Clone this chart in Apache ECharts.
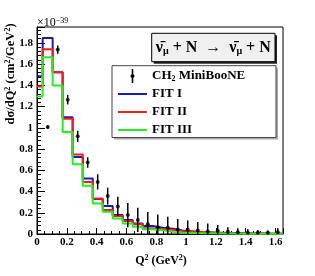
<!DOCTYPE html>
<html><head><meta charset="utf-8">
<script src="https://cdn.jsdelivr.net/npm/echarts@6/dist/echarts.min.js"></script>
<style>html,body{margin:0;padding:0;background:#fff}#c{width:315px;height:276px}</style>
</head><body><div id="c"></div>
<script>
// Histogram bin edges (Q^2, GeV^2) shared by the three fits
const binEdges = [0, 0.038, 0.105, 0.172, 0.239, 0.307, 0.374, 0.441, 0.508, 0.575, 0.642, 0.709, 0.777, 0.844, 0.911, 0.978, 1.045, 1.112, 1.180, 1.247, 1.314, 1.381, 1.448, 1.515, 1.582, 1.650];
// Bin contents (x10^-39 cm^2/GeV^2)
const fit1 = [1.486, 1.847, 1.524, 1.100, 0.726, 0.523, 0.330, 0.263, 0.178, 0.131, 0.100, 0.075, 0.059, 0.050, 0.032, 0.022, 0.016, 0.013, 0.010, 0.008, 0.006, 0.005, 0.004, 0.003, 0.003];
const fit2 = [1.390, 1.740, 1.524, 1.086, 0.748, 0.491, 0.335, 0.225, 0.169, 0.122, 0.091, 0.053, 0.047, 0.040, 0.028, 0.026, 0.020, 0.015, 0.012, 0.008, 0.006, 0.005, 0.004, 0.003, 0.003];
const fit3 = [1.296, 1.665, 1.400, 0.960, 0.657, 0.454, 0.288, 0.209, 0.147, 0.100, 0.069, 0.044, 0.036, 0.020, 0.011, 0.009, 0.007, 0.006, 0.005, 0.004, 0.003, 0.003, 0.002, 0.002, 0.002];
// MiniBooNE CH2 data points
const dataQ2 = [0.072, 0.139, 0.206, 0.273, 0.340, 0.407, 0.474, 0.542, 0.609, 0.676, 0.743, 0.810, 0.877, 0.944, 1.011, 1.078, 1.145, 1.212, 1.280, 1.347, 1.414, 1.481, 1.548, 1.615];
const dataVal = [1.007, 1.737, 1.265, 0.920, 0.673, 0.491, 0.357, 0.260, 0.178, 0.133, 0.092, 0.064, 0.058, 0.042, 0.040, 0.032, 0.024, 0.030, 0.022, 0.016, 0.012, 0.012, 0.012, 0.016];
const dataErr = [0.015, 0.039, 0.045, 0.052, 0.050, 0.072, 0.080, 0.090, 0.115, 0.115, 0.115, 0.120, 0.105, 0.100, 0.088, 0.080, 0.075, 0.055, 0.041, 0.037, 0.032, 0.026, 0.020, 0.037];

const FONT = 'Liberation Serif';
function histData(vals){
  const d = vals.map((v,i)=>[binEdges[i], v]);
  d.push([binEdges[vals.length], vals[vals.length-1]]);
  return d;
}
function stepSeries(name, vals, color, z){
  return {type:'line', name, step:'end', data:histData(vals), symbol:'none',
    lineStyle:{color, width:2}, itemStyle:{color}, z, animation:false, clip:true};
}
const LINE_ICON = 'path://M0,0 L29,0 L29,2 L0,2 Z';
const chart = echarts.init(document.getElementById('c'), null, {renderer:'canvas'});
const axisLabel = {color:'#000', fontFamily:FONT, fontWeight:'bold', fontSize:11};
chart.setOption({
  animation:false,
  grid:{left:37, right:32, top:27, bottom:42, show:true, borderColor:'#000', borderWidth:1, backgroundColor:'transparent'},
  xAxis:{type:'value', min:0, max:1.65, interval:0.2,
    axisLine:{show:true, lineStyle:{color:'#000', width:1}},
    axisTick:{show:true, inside:true, length:6, lineStyle:{color:'#000'}},
    minorTick:{show:true, splitNumber:4, length:3, lineStyle:{color:'#000'}},
    splitLine:{show:false},
    axisLabel:Object.assign({margin:3, showMaxLabel:false,
      formatter:v=> Math.abs(v/0.2 - Math.round(v/0.2))<1e-6 ? String(+v.toFixed(1)) : ''}, axisLabel)},
  yAxis:{type:'value', min:0, max:1.95, interval:0.2,
    axisLine:{show:true, lineStyle:{color:'#000', width:1}},
    axisTick:{show:true, inside:true, length:8, lineStyle:{color:'#000'}},
    minorTick:{show:true, splitNumber:5, length:4, lineStyle:{color:'#000'}},
    splitLine:{show:false},
    axisLabel:Object.assign({margin:4, showMaxLabel:false,
      formatter:v=> Math.abs(v/0.2 - Math.round(v/0.2))<1e-6 ? String(+v.toFixed(1)) : ''}, axisLabel)},
  legend:{orient:'vertical', left:118, top:69, padding:0, itemWidth:29, itemHeight:14, itemGap:4, z:20,
    symbolKeepAspect:true,
    textStyle:{color:'#000', fontFamily:FONT, fontWeight:'bold', fontSize:13, lineHeight:14,
      rich:{b:{fontFamily:FONT, fontWeight:'bold', fontSize:13, lineHeight:14, color:'#000'},
            s:{fontFamily:FONT, fontWeight:'bold', fontSize:8, lineHeight:8, verticalAlign:'bottom', color:'#000'}}},
    formatter:n=> n==='data' ? '{b|CH}{s|2}{b| MiniBooNE}' : n,
    data:[{name:'data', icon:'path://M-0.8,-7 L0.8,-7 L0.8,7 L-0.8,7 Z M-2,0 A2,2 0 1 1 2,0 A2,2 0 1 1 -2,0 Z', itemStyle:{color:'#000'}},
      {name:'FIT I', icon:LINE_ICON, itemStyle:{color:'#1a1ab4', borderWidth:0}},
      {name:'FIT II', icon:LINE_ICON, itemStyle:{color:'#ff1a1a', borderWidth:0}},
      {name:'FIT III', icon:LINE_ICON, itemStyle:{color:'#22ee22', borderWidth:0}}]},
  graphic:[
    {type:'rect', z:10, shape:{x:114, y:67.7, width:164, height:71.8}, style:{fill:'#aaa'}},
    {type:'rect', z:11, shape:{x:112, y:65.7, width:164, height:71.8}, style:{fill:'#fff', stroke:'#444', lineWidth:1}},
    {type:'rect', z:10, shape:{x:153.7, y:35.3, width:123.3, height:28.4}, style:{fill:'#222'}},
    {type:'rect', z:11, shape:{x:151.7, y:33.3, width:123.3, height:28.4}, style:{fill:'#f0f0f0', stroke:'#000', lineWidth:1}},
    {type:'text', z:12, x:213.3, y:47.5, style:{
      text:'{n|\u03bd\u0304}{m|\u03bc}{n| + N  \u2192  }{n|\u03bd\u0304}{m|\u03bc}{n| + N}',
      align:'center', verticalAlign:'middle',
      rich:{n:{fontFamily:FONT, fontWeight:'bold', fontSize:16, lineHeight:18, fill:'#000', color:'#000'},
            m:{fontFamily:FONT, fontWeight:'bold', fontSize:10, lineHeight:10, verticalAlign:'bottom', fill:'#000', color:'#000'}}}},
    {type:'text', z:12, x:37, y:23, style:{
      text:'{a|\u00d710}{b|\u221239}', align:'left', verticalAlign:'middle',
      rich:{a:{fontFamily:FONT, fontSize:12, lineHeight:12, color:'#000', fill:'#000'},
            b:{fontFamily:FONT, fontSize:8, lineHeight:8, verticalAlign:'top', color:'#000', fill:'#000'}}}},
    {type:'text', z:12, x:11, y:74, rotation:Math.PI/2, style:{
      text:'{a|d\u03c3/dQ}{s|2}{a| (cm}{s|2}{a|/GeV}{s|2}{a|)}', align:'center', verticalAlign:'middle',
      rich:{a:{fontFamily:FONT, fontWeight:'bold', fontSize:12.5, lineHeight:14, color:'#000', fill:'#000'},
            s:{fontFamily:FONT, fontWeight:'bold', fontSize:8, lineHeight:8, verticalAlign:'top', color:'#000', fill:'#000'}}}},
    {type:'text', z:12, x:161, y:261, style:{
      text:'{a|Q}{s|2}{a| (GeV}{s|2}{a|)}', align:'center', verticalAlign:'middle',
      rich:{a:{fontFamily:FONT, fontWeight:'bold', fontSize:12, lineHeight:14, color:'#000', fill:'#000'},
            s:{fontFamily:FONT, fontWeight:'bold', fontSize:8, lineHeight:8, verticalAlign:'top', color:'#000', fill:'#000'}}}}
  ],
  series:[
    stepSeries('FIT I', fit1, '#1a1ab4', 2),
    stepSeries('FIT II', fit2, '#ff1a1a', 3),
    stepSeries('FIT III', fit3, '#22ee22', 4),
    {type:'custom', name:'data', z:6, clip:true,
      data:dataQ2.map((q,i)=>[q, dataVal[i]-dataErr[i], dataVal[i]+dataErr[i]]),
      encode:{x:0, y:[1,2]},
      renderItem:(params, api)=>{
        const lo = api.coord([api.value(0), Math.max(0, api.value(1))]);
        const hi = api.coord([api.value(0), api.value(2)]);
        return {type:'line', shape:{x1:lo[0], y1:lo[1], x2:hi[0], y2:hi[1]}, style:{stroke:'#000', lineWidth:1.5}};
      }},
    {type:'scatter', name:'data', z:7, symbol:'circle', symbolSize:4, itemStyle:{color:'#000'},
      data:dataQ2.map((q,i)=>[q, dataVal[i]])}
  ]
});
</script></body></html>
